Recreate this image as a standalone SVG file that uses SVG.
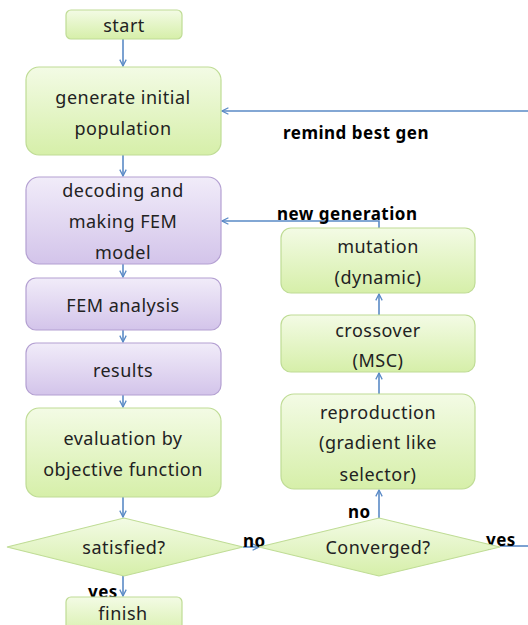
<svg xmlns="http://www.w3.org/2000/svg" width="528" height="625" viewBox="0 0 528 625">
<defs>
<linearGradient id="gG" x1="0" y1="0" x2="0" y2="1"><stop offset="0" stop-color="#f3fbe5"/><stop offset="1" stop-color="#d6efa9"/></linearGradient>
<linearGradient id="gP" x1="0" y1="0" x2="0" y2="1"><stop offset="0" stop-color="#f1ecf9"/><stop offset="1" stop-color="#d3c4ea"/></linearGradient>
<marker id="ah" viewBox="0 0 10 10" refX="9" refY="5" markerWidth="8" markerHeight="8" markerUnits="userSpaceOnUse" orient="auto"><path d="M1,1 L9,5 L1,9" fill="none" stroke="#5a8ac6" stroke-width="1.6"/></marker>
<style>
.g{fill:url(#gG);stroke:#bfdc95;stroke-width:1.2}
.p{fill:url(#gP);stroke:#b4a0d2;stroke-width:1.2}
.t{font-family:"Noto Sans","Open Sans",sans-serif;font-size:18px;letter-spacing:0.5px;fill:#222;text-anchor:middle;dominant-baseline:central}
.b{font-family:"Noto Sans","Open Sans",sans-serif;font-size:17px;letter-spacing:0.5px;font-weight:bold;fill:#000;dominant-baseline:central}
.c{fill:none;stroke:#5a8ac6;stroke-width:1.6}
</style>
</defs>
<g id="connectors">
<line class="c" x1="123" y1="39" x2="123" y2="66" marker-end="url(#ah)"/>
<line class="c" x1="123" y1="155" x2="123" y2="176" marker-end="url(#ah)"/>
<line class="c" x1="123" y1="264" x2="123" y2="277" marker-end="url(#ah)"/>
<line class="c" x1="123" y1="330" x2="123" y2="342" marker-end="url(#ah)"/>
<line class="c" x1="123" y1="395" x2="123" y2="407" marker-end="url(#ah)"/>
<line class="c" x1="123" y1="497" x2="123" y2="517" marker-end="url(#ah)"/>
<line class="c" x1="123" y1="576" x2="123" y2="596" marker-end="url(#ah)"/>
<line class="c" x1="243" y1="547" x2="259" y2="547" marker-end="url(#ah)"/>
<line class="c" x1="379" y1="518" x2="379" y2="490" marker-end="url(#ah)"/>
<line class="c" x1="379" y1="394" x2="379" y2="373" marker-end="url(#ah)"/>
<line class="c" x1="379" y1="315" x2="379" y2="294" marker-end="url(#ah)"/>
<polyline class="c" points="379,228 379,221 222,221" marker-end="url(#ah)"/>
<line class="c" x1="500" y1="546" x2="528" y2="546"/>
<line class="c" x1="528" y1="111" x2="222" y2="111" marker-end="url(#ah)"/>
<text class="b" x="283" y="132">remind best gen</text>
<text class="b" x="277" y="213">new generation</text>
<text class="b" x="243" y="540">no</text>
<text class="b" x="348" y="511">no</text>
<text class="b" x="486" y="539">yes</text>
<text class="b" x="88" y="591">yes</text>
</g>
<g id="start"><rect class="g" x="66" y="10" width="116" height="29" rx="5"/><text class="t" x="124" y="25">start</text></g>
<g id="generate"><rect class="g" x="26" y="67" width="195" height="88" rx="13"/><text class="t" x="123" y="97">generate initial</text><text class="t" x="123" y="128">population</text></g>
<g id="decoding"><rect class="p" x="26" y="177" width="195" height="87" rx="13"/><text class="t" x="123" y="190">decoding and</text><text class="t" x="123" y="221">making FEM</text><text class="t" x="123" y="252">model</text></g>
<g id="fem"><rect class="p" x="26" y="278" width="195" height="52" rx="10"/><text class="t" x="123" y="305">FEM analysis</text></g>
<g id="results"><rect class="p" x="26" y="343" width="195" height="52" rx="10"/><text class="t" x="123" y="370">results</text></g>
<g id="evaluation"><rect class="g" x="26" y="408" width="195" height="89" rx="13"/><text class="t" x="123" y="438">evaluation by</text><text class="t" x="123" y="469">objective function</text></g>
<g id="satisfied"><polygon class="g" points="7,547 124,518 243,547 124,576"/><text class="t" x="124" y="547">satisfied?</text></g>
<g id="finish"><rect class="g" x="66" y="597" width="116" height="40" rx="5"/><text class="t" x="123" y="613">finish</text></g>
<g id="converged"><polygon class="g" points="259,547 379,518 500,547 379,576"/><text class="t" x="378" y="547">Converged?</text></g>
<g id="reproduction"><rect class="g" x="281" y="394" width="194" height="95" rx="13"/><text class="t" x="378" y="412">reproduction</text><text class="t" x="378" y="442">(gradient like</text><text class="t" x="378" y="474">selector)</text></g>
<g id="crossover"><rect class="g" x="281" y="315" width="194" height="57" rx="10"/><text class="t" x="378" y="330">crossover</text><text class="t" x="378" y="360">(MSC)</text></g>
<g id="mutation"><rect class="g" x="281" y="228" width="194" height="65" rx="10"/><text class="t" x="378" y="246">mutation</text><text class="t" x="378" y="277">(dynamic)</text></g>
</svg>
